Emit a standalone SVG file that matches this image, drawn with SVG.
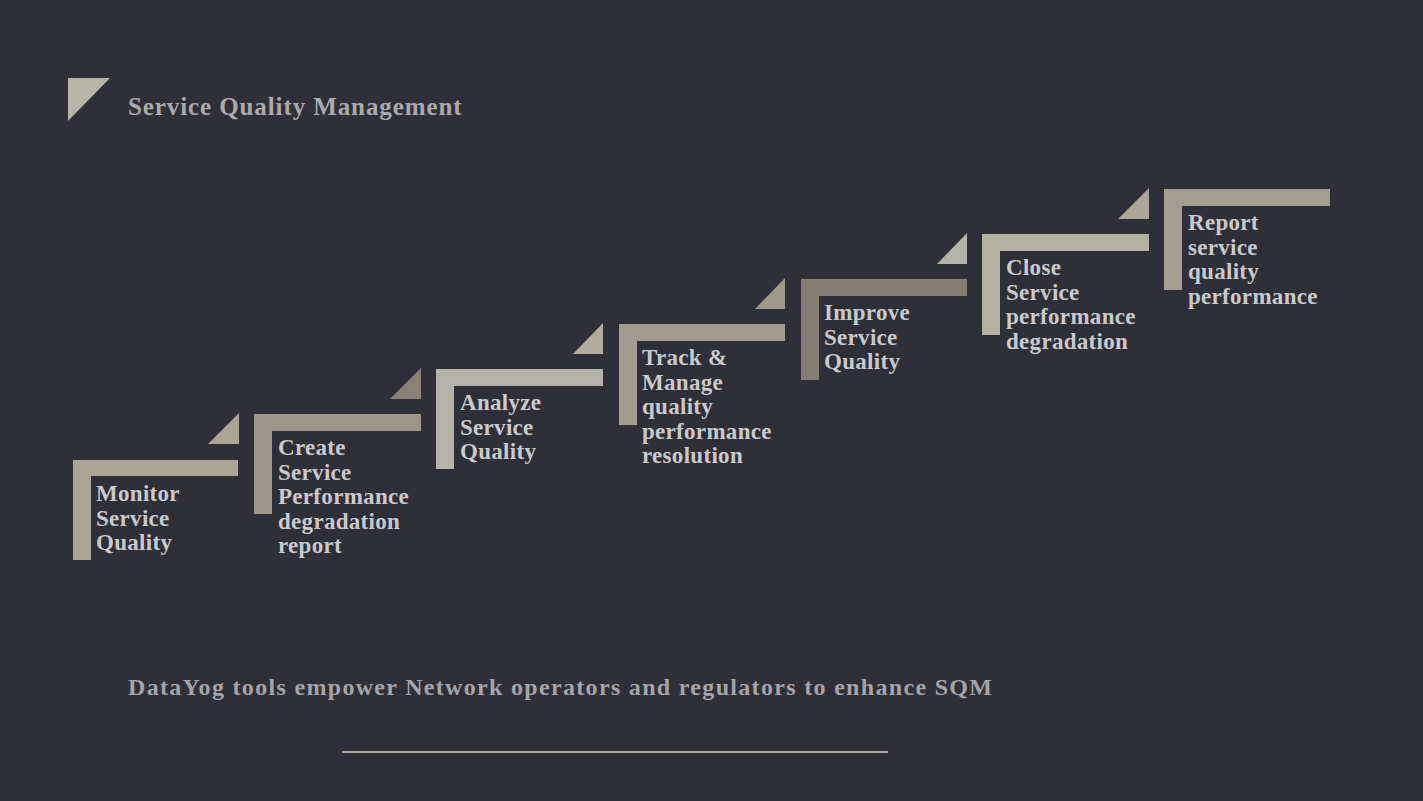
<svg xmlns="http://www.w3.org/2000/svg" width="1423" height="801" viewBox="0 0 1423 801">
<style>
.lbl{font-family:"Liberation Serif","Times New Roman",serif;font-weight:bold;font-size:23px;letter-spacing:0.3px;fill:#c9c9ce}
.title{font-family:"Liberation Serif","Times New Roman",serif;font-weight:bold;font-size:25px;letter-spacing:0.9px;fill:#a9a9ae}
.foot{font-family:"Liberation Serif","Times New Roman",serif;font-weight:bold;font-size:24px;fill:#a4a4a9}
</style>
<rect width="1423" height="801" fill="#2f2f37"/>
<g id="header">
<polygon points="68,78 110,78 68,121" fill="#b6b5a8"/>
<text class="title" x="128" y="115">Service Quality Management</text>
</g>
<g id="step1">
<path d="M73,460 H238 V476 H91 V560 H73 Z" fill="#aba595"/>
<polygon points="208,444 239,444 239,413" fill="#aaa595"/>
<text class="lbl" x="96" y="501">Monitor<tspan x="96" dy="24.5">Service</tspan><tspan x="96" dy="24.5">Quality</tspan></text>
</g>
<g id="step2">
<path d="M254,414 H421 V431 H272 V514 H254 Z" fill="#9d958a"/>
<polygon points="390,399 421,399 421,368" fill="#8a8177"/>
<text class="lbl" x="278" y="455">Create<tspan x="278" dy="24.5">Service</tspan><tspan x="278" dy="24.5">Performance</tspan><tspan x="278" dy="24.5">degradation</tspan><tspan x="278" dy="24.5">report</tspan></text>
</g>
<g id="step3">
<path d="M436,369 H603 V386 H454 V469 H436 Z" fill="#b5b3a9"/>
<polygon points="573,354 603,354 603,323" fill="#b0ad9f"/>
<text class="lbl" x="460" y="410">Analyze<tspan x="460" dy="24.5">Service</tspan><tspan x="460" dy="24.5">Quality</tspan></text>
</g>
<g id="step4">
<path d="M619,324 H785 V341 H637 V425 H619 Z" fill="#a39c90"/>
<polygon points="755,309 785,309 785,278" fill="#a09a8e"/>
<text class="lbl" x="642" y="365">Track &amp;<tspan x="642" dy="24.5">Manage</tspan><tspan x="642" dy="24.5">quality</tspan><tspan x="642" dy="24.5">performance</tspan><tspan x="642" dy="24.5">resolution</tspan></text>
</g>
<g id="step5">
<path d="M801,279 H967 V296 H819 V380 H801 Z" fill="#857c73"/>
<polygon points="937,264 967,264 967,233" fill="#b5b4ab"/>
<text class="lbl" x="824" y="320">Improve<tspan x="824" dy="24.5">Service</tspan><tspan x="824" dy="24.5">Quality</tspan></text>
</g>
<g id="step6">
<path d="M982,234 H1149 V251 H1000 V335 H982 Z" fill="#b3b1a1"/>
<polygon points="1118,219 1149,219 1149,188" fill="#aba697"/>
<text class="lbl" x="1006" y="275">Close<tspan x="1006" dy="24.5">Service</tspan><tspan x="1006" dy="24.5">performance</tspan><tspan x="1006" dy="24.5">degradation</tspan></text>
</g>
<g id="step7">
<path d="M1164,189 H1330 V206 H1182 V290 H1164 Z" fill="#a49d92"/>
<text class="lbl" x="1188" y="230">Report<tspan x="1188" dy="24.5">service</tspan><tspan x="1188" dy="24.5">quality</tspan><tspan x="1188" dy="24.5">performance</tspan></text>
</g>
<g id="connectors"></g>
<g id="footer">
<text class="foot" x="128" y="695" textLength="864" lengthAdjust="spacing">DataYog tools empower Network operators and regulators to enhance SQM</text>
<line x1="342" y1="752" x2="888" y2="752" stroke="#a9a89c" stroke-width="2"/>
</g>
</svg>
